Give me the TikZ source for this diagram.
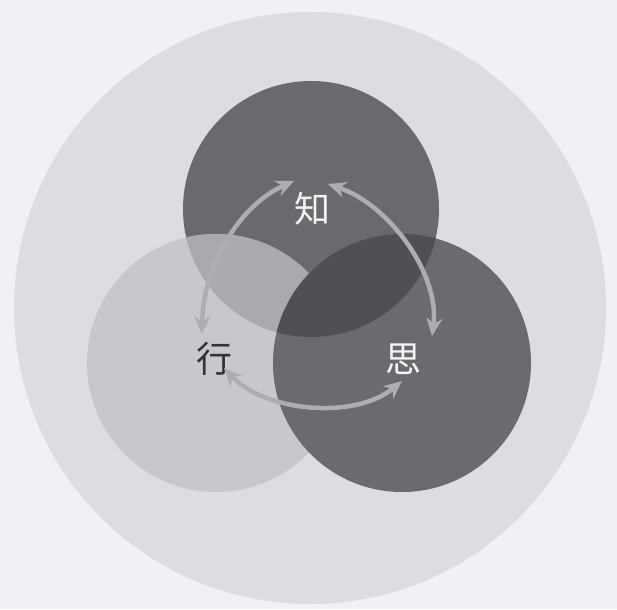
\documentclass[tikz,border=0pt]{standalone}
\usepackage{fontspec}
\newfontfamily\cjk{Noto Sans CJK SC}
\usetikzlibrary{arrows.meta}
\definecolor{bgc}{HTML}{F0F0F5}
\definecolor{bigc}{HTML}{DCDCE1}
\definecolor{topc}{HTML}{69696E}
\definecolor{leftc}{HTML}{C7C7CC}
\definecolor{rightc}{HTML}{6A6A6F}
\definecolor{tlc}{HTML}{A9A9AE}
\definecolor{trc}{HTML}{4F4F54}
\definecolor{arrc}{HTML}{ADADB2}
\tikzset{
  lbl/.style={font=\cjk\fontsize{36}{36}\selectfont, inner sep=0pt},
  cyc/.style={draw=arrc, line width=4.5pt, {Stealth[length=18pt,width=16pt]}-{Stealth[length=18pt,width=16pt]}}
}
\begin{document}
\begin{tikzpicture}[x=1pt,y=-1pt]
\useasboundingbox (0,0) rectangle (617,609);
\fill[bgc] (0,0) rectangle (617,609);
\fill[bigc] (310,308) circle (296);
% circles
\fill[topc] (311,209) circle (128);
\fill[leftc] (216,363) circle (129);
\begin{scope}
  \clip (311,209) circle (128);
  \fill[tlc] (216,363) circle (129);
\end{scope}
\fill[rightc] (402,363) circle (129);
\begin{scope}
  \clip (311,209) circle (128);
  \fill[trc] (402,363) circle (129);
\end{scope}
% labels
\node[lbl, text=white!90!gray] (zhi) at (312,209) {知};
\node[lbl, text=black!80] (xing) at (214,359) {行};
\node[lbl, text=white!92!gray] (si) at (403,359) {思};
% arrow end points
\coordinate (a1) at (294,181);
\coordinate (b1) at (202,334);
\coordinate (a2) at (328,184);
\coordinate (b2) at (432,336);
\coordinate (a3) at (224,368);
\coordinate (b3) at (402,381);
\draw[cyc] (a1) .. controls (240,205) and (203,265) .. (b1);
\draw[cyc] (a2) .. controls (390,205) and (440,275) .. (b2);
\draw[cyc] (a3) .. controls (265,412) and (355,420) .. (b3);
\end{tikzpicture}
\end{document}
